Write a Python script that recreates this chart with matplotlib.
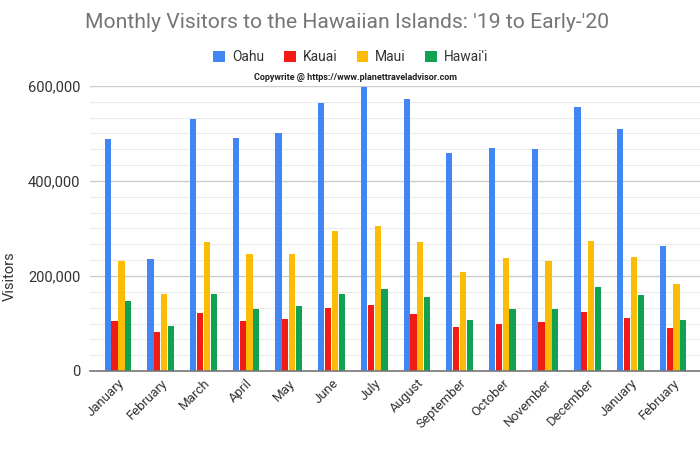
import matplotlib
matplotlib.use("Agg")
import matplotlib.pyplot as plt
import numpy as np
from matplotlib.ticker import FuncFormatter, MultipleLocator

months = ["January", "February", "March", "April", "May", "June", "July",
          "August", "September", "October", "November", "December",
          "January", "February"]
series_names = ["Oahu", "Kauai", "Maui", "Hawai'i"]
oahu = [488000, 235000, 530000, 490000, 502000, 564000, 598000,
        572000, 460000, 469000, 467000, 555000, 509000, 264000]
kauai = [105000, 82000, 122000, 105000, 110000, 133000, 139000,
         119000, 93000, 100000, 103000, 124000, 112000, 91000]
maui = [231000, 163000, 272000, 246000, 246000, 294000, 306000,
        271000, 208000, 238000, 231000, 273000, 241000, 183000]
hawaii = [147000, 94000, 163000, 131000, 136000, 163000, 172000,
          155000, 108000, 131000, 131000, 176000, 161000, 107000]
colors = ["#4285f4", "#f21c14", "#fbbc04", "#11a153"]

plt.rcParams['font.family'] = ['Roboto', 'DejaVu Sans']

fig = plt.figure(figsize=(7, 4.5), dpi=100)
ax = fig.add_axes([90/700, 1-371/450, 610/700, (371-86)/450])

x = np.arange(len(months))
w = 0.145
step = 0.16
for i, (vals, c, name) in enumerate(zip([oahu, kauai, maui, hawaii], colors, series_names)):
    ax.bar(x + (i - 1.5) * step, vals, width=w, color=c, label=name,
           zorder=3, clip_on=False)

ax.set_xlim(-0.656, 13.63)
ax.set_ylim(0, 600000)
ax.yaxis.set_major_locator(MultipleLocator(200000))
ax.yaxis.set_minor_locator(MultipleLocator(200000/6))
ax.yaxis.set_major_formatter(FuncFormatter(lambda v, p: f"{int(v):,}"))
ax.grid(axis='y', which='major', color='#cccccc', linewidth=1.0, zorder=0)
ax.grid(axis='y', which='minor', color='#ebebeb', linewidth=0.8, zorder=0)
ax.tick_params(axis='y', which='both', length=0, labelsize=10.5, labelcolor='#333333', pad=7)
ax.tick_params(axis='x', length=0, labelsize=9.5, labelcolor='#333333', pad=4)
ax.set_xticks(x)
ax.set_xticklabels(months, rotation=45, ha='right', rotation_mode='anchor')
for s in ['top', 'right', 'left']:
    ax.spines[s].set_visible(False)
ax.spines['bottom'].set_color('#777777')
ax.spines['bottom'].set_linewidth(1.2)
ax.spines['bottom'].set_zorder(4)

fig.text(10/700, 1-276/450, "Visitors", rotation=90, ha='center', va='center',
         fontsize=10.5, color='#333333')

fig.text(347/700, 1-22/450, "Monthly Visitors to the Hawaiian Islands: '19 to Early-'20",
         ha='center', va='center', fontsize=15.2, color='#757575')

leg = fig.legend(loc='center', bbox_to_anchor=(351/700, 1-57/450), ncol=4,
                 frameon=False, fontsize=10, handlelength=0.85, handleheight=0.85,
                 handletextpad=0.5, columnspacing=1.4)
for t in leg.get_texts():
    t.set_color('#333333')

fig.text(355/700, 1-78/450, "Copywrite @ https://www.planettraveladvisor.com",
         ha='center', va='center', fontsize=6.5, color='#222222', fontweight='bold')

fig.savefig("out.png", dpi=100)
